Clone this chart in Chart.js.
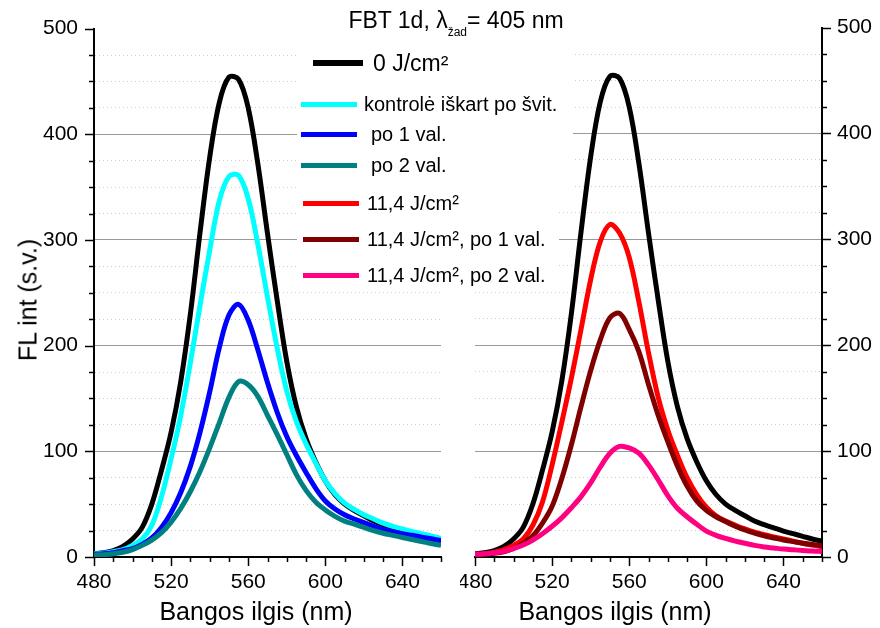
<!DOCTYPE html>
<html>
<head>
<meta charset="utf-8">
<script src="https://cdn.jsdelivr.net/npm/chart.js@4.4.1/dist/chart.umd.min.js"></script>
<style>
  body { margin: 0; background: #fff; }
  #wrap { position: relative; width: 880px; height: 628px; overflow: hidden;
          font-family: "Liberation Sans", Arial, sans-serif; color: #000; }
  canvas { position: absolute; top: 0; }
  #leftChart { left: 0; }
  #rightChart { left: 460px; }
  .bg { position: absolute; background: #fff; }
  .xtitle { position: absolute; top: 599px; font-size: 25px; line-height: 25px;
            white-space: nowrap; transform: translateX(-50%); }
  #ytitle { position: absolute; left: 28px; top: 300px; font-size: 25px; line-height: 25px;
            white-space: nowrap; transform: translate(-50%, -50%) rotate(-90deg); }
  #title { position: absolute; left: 456px; top: 9px; font-size: 23px; line-height: 23px;
           white-space: nowrap; transform: translateX(-50%); }
  #title span { font-size: 12px; position: relative; top: 8px; }
  .swatch { position: absolute; }
  .ltext { position: absolute; white-space: nowrap; }
</style>
</head>
<body>
<div id="wrap">
  <canvas id="leftChart" width="460" height="628"></canvas>
  <canvas id="rightChart" width="420" height="628"></canvas>
  <div class="bg" style="left:297px;top:40px;width:276px;height:160px"></div>
  <div class="bg" style="left:297px;top:200px;width:262px;height:86px"></div>
  <div id="title">FBT 1d, λ<span>žad</span>= 405 nm</div>
  <div id="ytitle">FL int (s.v.)</div>
  <div class="xtitle" style="left:256px">Bangos ilgis (nm)</div>
  <div class="xtitle" style="left:615px">Bangos ilgis (nm)</div>
  <div id="legend"></div>
</div>
<script>
// --- Data (every 5 nm) ---
const wavelengths = [480, 485, 490, 495, 500, 505, 510, 515, 520, 525, 530, 535, 540, 545, 550, 555, 560, 565, 570,
  575, 580, 585, 590, 595, 600, 605, 610, 615, 620, 625, 630, 635, 640, 645, 650, 655, 660];

const dose0 = [3, 4, 6, 10, 17, 28, 50, 82, 118, 166, 230, 307, 378, 430, 454, 452, 425, 372, 306,
  243, 185, 142, 112, 90, 72, 59, 50, 44, 39, 34, 30.5, 27.5, 24.5, 22, 19.5, 17, 14.8];
const controlNow = [3, 3.5, 5, 7, 11, 17, 30, 57, 93, 134, 184, 238, 290, 337, 360, 361, 339, 296, 246,
  198, 157, 128, 107, 89, 72, 60, 51, 45, 40, 36, 32, 29, 26.5, 24, 22, 20, 17.6];
const control1h = [2.5, 3, 4, 6, 8, 12, 18, 28, 42, 61, 86, 118, 156, 198, 229, 239, 224, 196, 165,
  137, 114, 96, 80, 65, 53, 45.5, 40, 36, 32.5, 29, 26, 24, 22, 20.5, 18.8, 17.2, 15.7];
const control2h = [2, 2.2, 3, 4.5, 7, 11, 16, 23, 33, 46, 62, 81, 103, 127, 151, 166, 163, 152, 134,
  116, 97, 78, 63, 52, 44.5, 38.5, 34, 31, 28, 25, 22.5, 20.5, 18.5, 16.5, 14.5, 12.7, 11];
const dose11 = [2.5, 3, 4.5, 7, 11, 17, 30, 52, 87, 127, 169, 215, 262, 298, 314, 306, 283, 241, 193,
  151, 120, 96, 75, 59, 47, 39, 34, 30, 26.5, 23.5, 21, 19, 17, 15, 13, 11.3, 9.7];
const dose11_1h = [2.5, 2.8, 3.5, 5, 8, 13, 20, 32, 48, 74, 106, 142, 176, 205, 226, 230, 215, 194, 163,
  134, 109, 86, 67, 53, 44, 38, 33.5, 29, 25.5, 22.5, 20, 18, 16, 14.5, 13, 11.8, 10.6];
const dose11_2h = [2.5, 3, 4, 5.3, 8, 11.3, 16, 22, 29, 37, 46.5, 57, 70, 85, 98, 104.5, 103, 98, 87,
  73, 58, 46, 38, 31, 24.5, 20.5, 17.5, 15, 13, 11, 9.5, 8.5, 7.5, 6.8, 6.2, 5.6, 5.2];

const labels = ["0 J/cm²", "kontrolė iškart po švit.", "po 1 val.", "po 2 val.",
  "11,4 J/cm²", "11,4 J/cm², po 1 val.", "11,4 J/cm², po 2 val."];
const colors = ["#000000", "#00ffff", "#0000ff", "#008080", "#ff0000", "#800000", "#ff0080"];

const xTicksMajor = [480, 520, 560, 600, 640];
const yTicksMajor = [0, 100, 200, 300, 400, 500];

// --- Helpers ---
const FONT = '"Liberation Sans", Arial, sans-serif';
Chart.defaults.font.family = FONT;
Chart.defaults.color = "#000";

function series(values, i, order) {
  return {
    label: labels[i],
    data: wavelengths.map((w, k) => ({ x: w, y: values[k] })),
    borderColor: colors[i],
    backgroundColor: colors[i],
    borderWidth: 5,
    pointRadius: 0,
    tension: 0.35,
    order: order,
  };
}

// outward tick marks, long at labelled values
const outerTicks = {
  id: "outerTicks",
  afterDraw(chart) {
    const { ctx, scales } = chart;
    const xs = scales.x, ys = scales.y;
    ctx.save();
    ctx.strokeStyle = "#000";
    ctx.lineWidth = 1.5;
    xs.ticks.forEach((t) => {
      const p = Math.round(xs.getPixelForValue(t.value)) + 0.5;
      const len = xTicksMajor.includes(t.value) ? 9 : 5;
      ctx.beginPath();
      ctx.moveTo(p, xs.top);
      ctx.lineTo(p, xs.top + len);
      ctx.stroke();
    });
    const right = ys.position === "right";
    const edge = right ? ys.left : ys.right;
    ys.ticks.forEach((t) => {
      const p = Math.round(ys.getPixelForValue(t.value)) + 0.5;
      const len = yTicksMajor.includes(t.value) ? 9 : 5;
      ctx.beginPath();
      ctx.moveTo(edge, p);
      ctx.lineTo(edge + (right ? len : -len), p);
      ctx.stroke();
    });
    ctx.restore();
  },
};

function makeOptions(side) {
  const yScale = {
    type: "linear",
    position: side,
    min: 0,
    max: 500,
    afterFit: (s) => { s.width = side === "left" ? 94 : 58; },
    ticks: {
      stepSize: 25,
      autoSkip: false,
      padding: side === "left" ? 16 : 15,
      font: { size: 21 },
      callback: (v) => (yTicksMajor.includes(v) ? v : ""),
    },
    grid: {
      drawTicks: false,
      lineWidth: 1,
      color: (c) => {
        const v = c.tick.value;
        if (v === 0 || v === 500) return "rgba(0,0,0,0)";
        return v % 100 === 0 ? "#999999" : "#cccccc";
      },
    },
    border: {
      display: true,
      color: "#000",
      width: 2,
      dash: (c) => (c.tick && c.tick.value % 100 !== 0 ? [1, 3] : []),
    },
  };
  const xScale = {
    type: "linear",
    position: "bottom",
    min: 480,
    max: 660,
    afterFit: (s) => { s.height = 71; s.paddingLeft = 0; s.paddingRight = 0; },
    ticks: {
      stepSize: 10,
      autoSkip: false,
      maxRotation: 0,
      padding: 13,
      font: { size: 21 },
      callback: (v) => (xTicksMajor.includes(v) ? v : ""),
    },
    grid: { display: false, drawTicks: false },
    border: { display: true, color: "#000", width: 2 },
  };
  return {
    responsive: false,
    animation: false,
    layout: side === "left"
      ? { padding: { left: 0, top: 27, right: 19, bottom: 0 } }
      : { padding: { left: 15, top: 27, right: 0, bottom: 0 } },
    plugins: { legend: { display: false }, tooltip: { enabled: false } },
    scales: { x: xScale, y: yScale },
  };
}

// --- Left panel: control ---
new Chart(document.getElementById("leftChart"), {
  type: "line",
  data: {
    datasets: [
      series(dose0, 0, 4),
      series(controlNow, 1, 3),
      series(control1h, 2, 2),
      series(control2h, 3, 1),
    ],
  },
  options: makeOptions("left"),
  plugins: [outerTicks],
});

// --- Right panel: 11,4 J/cm2 ---
new Chart(document.getElementById("rightChart"), {
  type: "line",
  data: {
    datasets: [
      series(dose0, 0, 4),
      series(dose11, 4, 3),
      series(dose11_1h, 5, 2),
      series(dose11_2h, 6, 1),
    ],
  },
  options: makeOptions("right"),
  plugins: [outerTicks],
});

// --- Legend (middle, over both panels) ---
const legendRows = [
  { y: 63, x0: 313, x1: 363, h: 6, tx: 373, size: 23 },
  { y: 104, x0: 301, x1: 357, h: 5, tx: 364, size: 20 },
  { y: 134, x0: 301, x1: 357, h: 5, tx: 371, size: 20 },
  { y: 165, x0: 301, x1: 357, h: 5, tx: 371, size: 20 },
  { y: 203, x0: 303, x1: 359, h: 5, tx: 367, size: 20 },
  { y: 239, x0: 303, x1: 359, h: 5, tx: 367, size: 20 },
  { y: 275, x0: 303, x1: 359, h: 5, tx: 367, size: 20 },
];
const legend = document.getElementById("legend");
legendRows.forEach((r, i) => {
  const sw = document.createElement("div");
  sw.className = "swatch";
  sw.style.cssText = `left:${r.x0}px;top:${r.y - r.h / 2}px;width:${r.x1 - r.x0}px;height:${r.h}px;background:${colors[i]}`;
  legend.appendChild(sw);
  const tx = document.createElement("div");
  tx.className = "ltext";
  tx.style.cssText = `left:${r.tx}px;top:${r.y - r.size / 2}px;font-size:${r.size}px;line-height:${r.size}px`;
  tx.textContent = labels[i];
  legend.appendChild(tx);
});
</script>
</body>
</html>
